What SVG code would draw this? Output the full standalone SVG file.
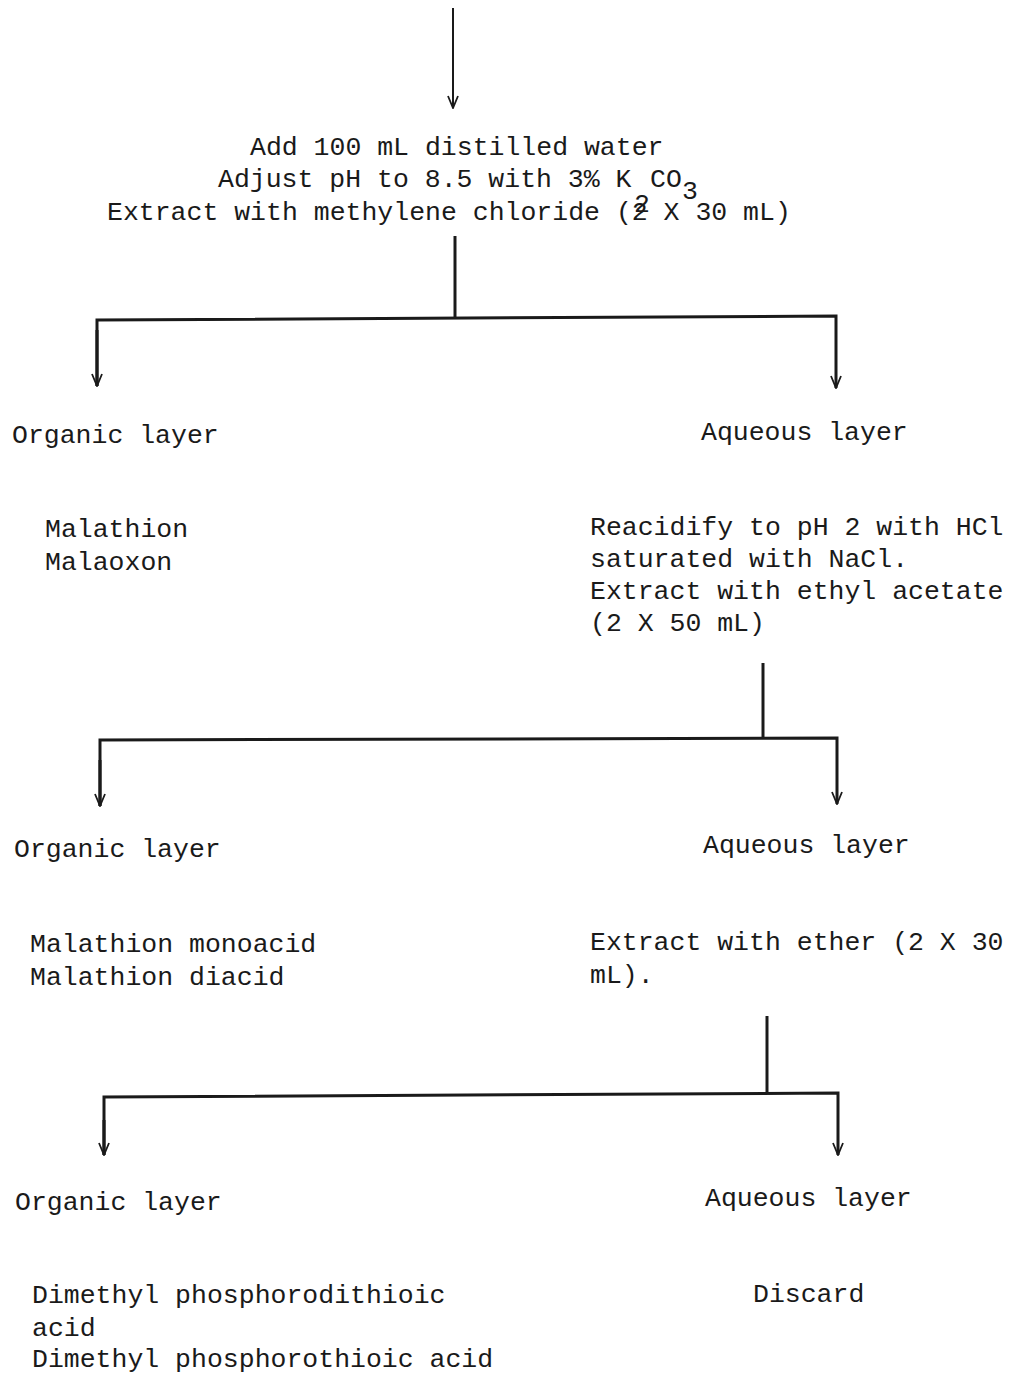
<svg xmlns="http://www.w3.org/2000/svg" width="1012" height="1376" viewBox="0 0 1012 1376">
<defs>
<style>
text{font-family:"Liberation Mono","DejaVu Sans Mono",monospace;font-size:26.5px;fill:#1a1a1a}
.ln{stroke:#1a1a1a;stroke-width:3;fill:none}
.thin{stroke:#1a1a1a;stroke-width:2;fill:none}
</style>
<marker id="ah" viewBox="0 0 14 12" refX="13" refY="6" markerWidth="14" markerHeight="12" markerUnits="userSpaceOnUse" orient="auto">
<path d="M1,1 L13,6 L1,11" fill="none" stroke="#1a1a1a" stroke-width="1.8"/>
</marker>
</defs>
<rect width="1012" height="1376" fill="#fff"/>
<g id="connectors">
<line class="thin" x1="453" y1="8" x2="453" y2="108" marker-end="url(#ah)"/>
<line class="ln" x1="455" y1="236" x2="455" y2="317"/>
<polyline class="ln" points="97,386 97,320 836,316 836,388" marker-end="url(#ah)"/>
<line class="ln" x1="97" y1="330" x2="97" y2="386" marker-end="url(#ah)"/>
<line class="ln" x1="763" y1="663" x2="763" y2="739"/>
<polyline class="ln" points="100,806 100,740 837,738 837,804" marker-end="url(#ah)"/>
<line class="ln" x1="100" y1="760" x2="100" y2="806" marker-end="url(#ah)"/>
<line class="ln" x1="767" y1="1016" x2="767" y2="1094"/>
<polyline class="ln" points="104,1155 104,1097 838,1093 838,1155" marker-end="url(#ah)"/>
<line class="ln" x1="104" y1="1120" x2="104" y2="1155" marker-end="url(#ah)"/>
</g>
<g id="step1">
<text x="250" y="155">Add 100 mL distilled water</text>
<text x="218" y="187">Adjust pH to 8.5 with 3% K</text>
<text x="634" y="212">2</text>
<text x="650" y="187">CO</text>
<text x="682" y="199">3</text>
<text x="107" y="220">Extract with methylene chloride (2 X 30 mL)</text>
</g>
<g id="organic1"><text x="12" y="443">Organic layer</text></g>
<g id="aqueous1"><text x="701" y="440">Aqueous layer</text></g>
<g id="products1">
<text x="45" y="537">Malathion</text>
<text x="45" y="570">Malaoxon</text>
</g>
<g id="step2">
<text x="590" y="535">Reacidify to pH 2 with HCl</text>
<text x="590" y="567">saturated with NaCl.</text>
<text x="590" y="599">Extract with ethyl acetate</text>
<text x="590" y="631">(2 X 50 mL)</text>
</g>
<g id="organic2"><text x="14" y="857">Organic layer</text></g>
<g id="aqueous2"><text x="703" y="853">Aqueous layer</text></g>
<g id="products2">
<text x="30" y="952">Malathion monoacid</text>
<text x="30" y="985">Malathion diacid</text>
</g>
<g id="step3">
<text x="590" y="950">Extract with ether (2 X 30</text>
<text x="590" y="983">mL).</text>
</g>
<g id="organic3"><text x="15" y="1210">Organic layer</text></g>
<g id="aqueous3"><text x="705" y="1206">Aqueous layer</text></g>
<g id="products3">
<text x="32" y="1303">Dimethyl phosphorodithioic</text>
<text x="32" y="1336">acid</text>
<text x="32" y="1367">Dimethyl phosphorothioic acid</text>
</g>
<g id="discard"><text x="753" y="1302">Discard</text></g>
</svg>
